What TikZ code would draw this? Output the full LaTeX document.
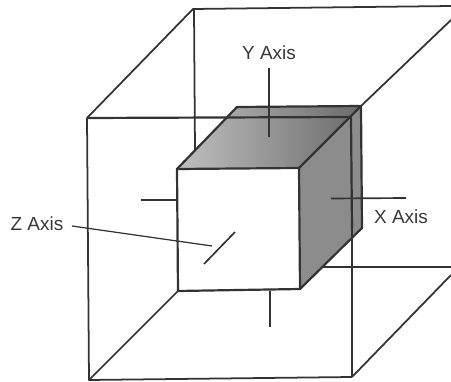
\documentclass[tikz,border=0pt]{standalone}
\usepackage{fontspec}
\setmainfont{Liberation Sans}
\definecolor{inkgray}{gray}{0.2}
\definecolor{labelgray}{gray}{0.22}
\tikzset{
	boxline/.style={draw=inkgray,line width=1pt,line join=round},
	cubeline/.style={draw=inkgray,line width=1.25pt,line join=round},
	axisline/.style={draw=inkgray,line width=0.95pt},
	axislabel/.style={text=labelgray,font=\fontsize{10.8}{12}\selectfont,inner sep=0pt}
}
\begin{document}
\begin{tikzpicture}[x=0.02cm,y=-0.02cm]
	\useasboundingbox (0,0) rectangle (451,382);
	% back of the outer box
	\draw[boxline] (87,118)--(193,9)--(451,6);
	\draw[boxline] (194,9)--(195,150);
	\draw[boxline] (451,20)--(361,106);
	\draw[boxline] (323,267)--(451,267);
	\draw[boxline] (89,380)--(178,291);
	\draw[boxline] (352,377)--(451,275);
	% stubs behind the cube
	\draw[axisline] (141,200)--(177,200);
	\draw[axisline] (270,291)--(270,327);
	% cube faces
	\shade[left color=black!25,right color=black!58] (177,169)--(237,107)--(361,106)--(299,168)--cycle;
	\fill[black!45] (299,168)--(361,106)--(362,228)--(300,289)--cycle;
	\fill[white] (177,169)--(299,168)--(300,289)--(178,291)--cycle;
	\draw[cubeline] (177,169)--(237,107)--(361,106)--(362,228)--(300,289)--(178,291)--cycle;
	\draw[cubeline] (177,169)--(299,168)--(361,106);
	\draw[cubeline] (299,168)--(300,289);
	% front of the outer box
	\draw[boxline] (87,118)--(89,380)--(352,377);
	\draw[cubeline] (87,118)--(351,117);
	\draw[cubeline] (351,117)--(352,228);
	\draw[boxline] (352,228)--(352,377);
	% axes and labels
	\node[axislabel] (ylabel) at (269,53) {Y Axis};
	\coordinate (yend) at (269,137);
	\draw[axisline] (269,68)--(yend);
	\draw[axisline] (331,198.5)--(406,198);
	\node[axislabel] (xlabel) at (401,217) {X Axis};
	\draw[axisline] (204,264)--(235,232);
	\node[axislabel] (zlabel) at (37,224) {Z Axis};
	\coordinate (zend) at (212,246);
	\draw[axisline,line width=0.7pt] (72,226)--(zend);
\end{tikzpicture}
\end{document}
